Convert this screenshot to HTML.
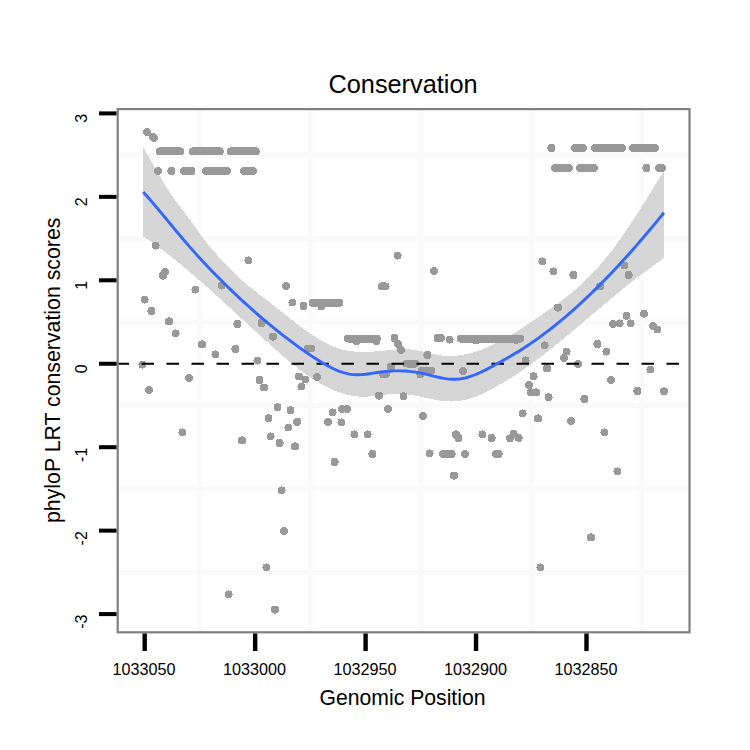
<!DOCTYPE html><html><head><meta charset="utf-8"><title>Conservation</title>
<style>html,body{margin:0;padding:0;background:#fff;}svg{display:block;}text{font-family:"Liberation Sans",sans-serif;fill:#000;}</style></head><body>
<svg width="750" height="750" viewBox="0 0 750 750">
<rect width="750" height="750" fill="#fff"/>
<path d="M199.92 109.10V632.30M310.38 109.10V632.30M420.82 109.10V632.30M531.27 109.10V632.30M641.72 109.10V632.30M117.70 155.12H689.50M117.70 238.57H689.50M117.70 322.02H689.50M117.70 405.48H689.50M117.70 488.93H689.50M117.70 572.38H689.50" stroke="#fafafa" stroke-width="4.8" fill="none"/>
<path d="M143.20 147.01 L145.20 150.53 L147.21 154.07 L149.21 157.63 L151.21 161.18 L153.21 164.73 L155.22 168.26 L157.22 171.76 L159.22 175.21 L161.22 178.62 L163.23 181.97 L165.23 185.25 L167.23 188.44 L169.23 191.55 L171.24 194.55 L173.24 197.44 L175.24 200.23 L177.25 202.94 L179.25 205.58 L181.25 208.19 L183.25 210.78 L185.26 213.37 L187.26 215.99 L189.26 218.65 L191.26 221.38 L193.27 224.20 L195.27 227.11 L197.27 230.05 L199.28 232.98 L201.28 235.82 L203.28 238.53 L205.28 241.10 L207.29 243.58 L209.29 246.01 L211.29 248.40 L213.29 250.76 L215.30 253.09 L217.30 255.37 L219.30 257.62 L221.31 259.83 L223.31 262.00 L225.31 264.13 L227.31 266.22 L229.32 268.27 L231.32 270.27 L233.32 272.23 L235.32 274.15 L237.33 276.02 L239.33 277.85 L241.33 279.64 L243.33 281.39 L245.34 283.11 L247.34 284.80 L249.34 286.46 L251.35 288.09 L253.35 289.71 L255.35 291.30 L257.35 292.88 L259.36 294.45 L261.36 296.00 L263.36 297.55 L265.36 299.09 L267.37 300.63 L269.37 302.17 L271.37 303.72 L273.38 305.27 L275.38 306.84 L277.38 308.41 L279.38 309.99 L281.39 311.58 L283.39 313.18 L285.39 314.78 L287.39 316.37 L289.40 317.96 L291.40 319.54 L293.40 321.12 L295.40 322.68 L297.41 324.23 L299.41 325.76 L301.41 327.27 L303.42 328.76 L305.42 330.22 L307.42 331.66 L309.42 333.07 L311.43 334.44 L313.43 335.78 L315.43 337.07 L317.43 338.33 L319.44 339.54 L321.44 340.71 L323.44 341.83 L325.44 342.90 L327.45 343.91 L329.45 344.87 L331.45 345.76 L333.46 346.60 L335.46 347.37 L337.46 348.07 L339.46 348.71 L341.47 349.27 L343.47 349.78 L345.47 350.22 L347.47 350.61 L349.48 350.94 L351.48 351.21 L353.48 351.44 L355.49 351.62 L357.49 351.76 L359.49 351.85 L361.49 351.90 L363.50 351.92 L365.50 351.90 L367.50 351.85 L369.50 351.77 L371.51 351.67 L373.51 351.54 L375.51 351.39 L377.51 351.23 L379.52 351.05 L381.52 350.85 L383.52 350.65 L385.53 350.44 L387.53 350.23 L389.53 350.03 L391.53 349.84 L393.54 349.66 L395.54 349.50 L397.54 349.37 L399.54 349.26 L401.55 349.19 L403.55 349.16 L405.55 349.18 L407.56 349.24 L409.56 349.35 L411.56 349.53 L413.56 349.77 L415.57 350.07 L417.57 350.42 L419.57 350.83 L421.57 351.26 L423.58 351.73 L425.58 352.21 L427.58 352.69 L429.58 353.18 L431.59 353.65 L433.59 354.10 L435.59 354.52 L437.60 354.89 L439.60 355.22 L441.60 355.49 L443.60 355.69 L445.61 355.84 L447.61 355.93 L449.61 355.96 L451.61 355.93 L453.62 355.85 L455.62 355.71 L457.62 355.52 L459.63 355.28 L461.63 354.98 L463.63 354.64 L465.63 354.25 L467.64 353.81 L469.64 353.32 L471.64 352.79 L473.64 352.22 L475.65 351.60 L477.65 350.94 L479.65 350.24 L481.66 349.50 L483.66 348.72 L485.66 347.91 L487.66 347.06 L489.67 346.17 L491.67 345.26 L493.67 344.30 L495.67 343.32 L497.68 342.31 L499.68 341.27 L501.68 340.20 L503.68 339.10 L505.69 337.98 L507.69 336.83 L509.69 335.66 L511.70 334.47 L513.70 333.26 L515.70 332.02 L517.70 330.77 L519.71 329.50 L521.71 328.22 L523.71 326.91 L525.71 325.60 L527.72 324.27 L529.72 322.93 L531.72 321.58 L533.73 320.22 L535.73 318.85 L537.73 317.48 L539.73 316.09 L541.74 314.71 L543.74 313.32 L545.74 311.92 L547.74 310.53 L549.75 309.13 L551.75 307.72 L553.75 306.30 L555.75 304.87 L557.76 303.42 L559.76 301.95 L561.76 300.47 L563.77 298.96 L565.77 297.43 L567.77 295.87 L569.77 294.28 L571.78 292.65 L573.78 290.99 L575.78 289.30 L577.78 287.56 L579.79 285.78 L581.79 283.96 L583.79 282.09 L585.80 280.17 L587.80 278.20 L589.80 276.17 L591.80 274.09 L593.81 271.96 L595.81 269.78 L597.81 267.55 L599.81 265.26 L601.82 262.92 L603.82 260.53 L605.82 258.09 L607.82 255.60 L609.83 253.05 L611.83 250.46 L613.83 247.81 L615.84 245.12 L617.84 242.37 L619.84 239.58 L621.84 236.74 L623.85 233.86 L625.85 230.94 L627.85 227.98 L629.85 224.98 L631.86 221.96 L633.86 218.90 L635.86 215.81 L637.87 212.70 L639.87 209.56 L641.87 206.40 L643.87 203.22 L645.88 200.03 L647.88 196.82 L649.88 193.60 L651.88 190.37 L653.89 187.13 L655.89 183.89 L657.89 180.64 L659.89 177.39 L661.90 174.15 L663.90 170.91 L663.90 258.24 L661.90 259.59 L659.89 260.96 L657.89 262.34 L655.89 263.75 L653.89 265.17 L651.88 266.61 L649.88 268.06 L647.88 269.53 L645.88 271.02 L643.87 272.52 L641.87 274.03 L639.87 275.56 L637.87 277.10 L635.86 278.66 L633.86 280.23 L631.86 281.80 L629.85 283.39 L627.85 284.99 L625.85 286.60 L623.85 288.22 L621.84 289.85 L619.84 291.49 L617.84 293.13 L615.84 294.78 L613.83 296.44 L611.83 298.11 L609.83 299.78 L607.82 301.45 L605.82 303.13 L603.82 304.82 L601.82 306.50 L599.81 308.19 L597.81 309.89 L595.81 311.58 L593.81 313.28 L591.80 314.98 L589.80 316.67 L587.80 318.37 L585.80 320.07 L583.79 321.76 L581.79 323.46 L579.79 325.15 L577.78 326.83 L575.78 328.52 L573.78 330.20 L571.78 331.88 L569.77 333.55 L567.77 335.21 L565.77 336.87 L563.77 338.53 L561.76 340.17 L559.76 341.81 L557.76 343.44 L555.75 345.06 L553.75 346.67 L551.75 348.27 L549.75 349.86 L547.74 351.44 L545.74 353.01 L543.74 354.57 L541.74 356.11 L539.73 357.65 L537.73 359.16 L535.73 360.67 L533.73 362.16 L531.72 363.63 L529.72 365.09 L527.72 366.53 L525.71 367.95 L523.71 369.36 L521.71 370.75 L519.71 372.13 L517.70 373.48 L515.70 374.82 L513.70 376.13 L511.70 377.43 L509.69 378.71 L507.69 379.96 L505.69 381.20 L503.68 382.41 L501.68 383.60 L499.68 384.78 L497.68 385.92 L495.67 387.05 L493.67 388.15 L491.67 389.23 L489.67 390.28 L487.66 391.29 L485.66 392.28 L483.66 393.23 L481.66 394.14 L479.65 395.01 L477.65 395.84 L475.65 396.63 L473.64 397.36 L471.64 398.04 L469.64 398.67 L467.64 399.25 L465.63 399.76 L463.63 400.22 L461.63 400.61 L459.63 400.93 L457.62 401.19 L455.62 401.37 L453.62 401.48 L451.61 401.52 L449.61 401.49 L447.61 401.40 L445.61 401.26 L443.60 401.06 L441.60 400.82 L439.60 400.53 L437.60 400.21 L435.59 399.86 L433.59 399.48 L431.59 399.08 L429.58 398.66 L427.58 398.23 L425.58 397.80 L423.58 397.36 L421.57 396.92 L419.57 396.50 L417.57 396.08 L415.57 395.69 L413.56 395.32 L411.56 394.97 L409.56 394.66 L407.56 394.39 L405.55 394.16 L403.55 393.98 L401.55 393.85 L399.54 393.78 L397.54 393.77 L395.54 393.82 L393.54 393.91 L391.53 394.04 L389.53 394.21 L387.53 394.40 L385.53 394.62 L383.52 394.86 L381.52 395.10 L379.52 395.35 L377.51 395.59 L375.51 395.82 L373.51 396.04 L371.51 396.23 L369.50 396.40 L367.50 396.53 L365.50 396.62 L363.50 396.66 L361.49 396.65 L359.49 396.58 L357.49 396.44 L355.49 396.23 L353.48 395.97 L351.48 395.64 L349.48 395.26 L347.47 394.81 L345.47 394.31 L343.47 393.74 L341.47 393.13 L339.46 392.46 L337.46 391.73 L335.46 390.96 L333.46 390.13 L331.45 389.25 L329.45 388.33 L327.45 387.36 L325.44 386.34 L323.44 385.28 L321.44 384.17 L319.44 383.02 L317.43 381.83 L315.43 380.60 L313.43 379.34 L311.43 378.03 L309.42 376.69 L307.42 375.31 L305.42 373.90 L303.42 372.46 L301.41 370.98 L299.41 369.48 L297.41 367.95 L295.40 366.38 L293.40 364.80 L291.40 363.19 L289.40 361.55 L287.39 359.89 L285.39 358.21 L283.39 356.51 L281.39 354.80 L279.38 353.06 L277.38 351.31 L275.38 349.54 L273.38 347.76 L271.37 345.97 L269.37 344.17 L267.37 342.35 L265.36 340.53 L263.36 338.70 L261.36 336.87 L259.36 335.03 L257.35 333.18 L255.35 331.34 L253.35 329.49 L251.35 327.64 L249.34 325.79 L247.34 323.93 L245.34 322.08 L243.33 320.23 L241.33 318.37 L239.33 316.52 L237.33 314.67 L235.32 312.82 L233.32 310.97 L231.32 309.13 L229.32 307.28 L227.31 305.44 L225.31 303.61 L223.31 301.77 L221.31 299.94 L219.30 298.12 L217.30 296.30 L215.30 294.49 L213.29 292.68 L211.29 290.88 L209.29 289.09 L207.29 287.30 L205.28 285.52 L203.28 283.75 L201.28 281.98 L199.28 280.23 L197.27 278.48 L195.27 276.75 L193.27 275.02 L191.26 273.31 L189.26 271.60 L187.26 269.91 L185.26 268.23 L183.25 266.56 L181.25 264.90 L179.25 263.25 L177.25 261.62 L175.24 260.00 L173.24 258.40 L171.24 256.81 L169.23 255.24 L167.23 253.68 L165.23 252.13 L163.23 250.61 L161.22 249.09 L159.22 247.60 L157.22 246.12 L155.22 244.66 L153.21 243.22 L151.21 241.80 L149.21 240.40 L147.21 239.01 L145.20 237.65 L143.20 236.30 Z" fill="#d6d6d6" shape-rendering="crispEdges"/>
<g fill="#999" shape-rendering="crispEdges">
<circle cx="147.0" cy="132.0" r="4.00"/>
<circle cx="153.0" cy="137.0" r="4.00"/>
<circle cx="154.0" cy="138.2" r="4.00"/>
<circle cx="155.6" cy="245.6" r="4.00"/>
<circle cx="163.0" cy="275.6" r="4.00"/>
<circle cx="165.0" cy="272.2" r="4.00"/>
<circle cx="248.4" cy="260.4" r="4.00"/>
<circle cx="195.4" cy="289.6" r="4.00"/>
<circle cx="221.6" cy="285.6" r="4.00"/>
<circle cx="144.6" cy="299.6" r="4.00"/>
<circle cx="151.4" cy="311.0" r="4.00"/>
<circle cx="169.0" cy="321.4" r="4.00"/>
<circle cx="175.6" cy="333.4" r="4.00"/>
<circle cx="237.4" cy="324.0" r="4.00"/>
<circle cx="261.6" cy="323.0" r="4.00"/>
<circle cx="202.0" cy="344.4" r="4.00"/>
<circle cx="215.4" cy="354.4" r="4.00"/>
<circle cx="235.4" cy="349.0" r="4.00"/>
<circle cx="257.5" cy="360.5" r="4.00"/>
<circle cx="142.4" cy="364.6" r="4.00"/>
<circle cx="189.0" cy="378.0" r="4.00"/>
<circle cx="259.5" cy="380.0" r="4.00"/>
<circle cx="264.0" cy="387.5" r="4.00"/>
<circle cx="149.0" cy="390.0" r="4.00"/>
<circle cx="182.4" cy="432.4" r="4.00"/>
<circle cx="242.0" cy="440.4" r="4.00"/>
<circle cx="228.6" cy="594.4" r="4.00"/>
<circle cx="266.4" cy="567.4" r="4.00"/>
<circle cx="286.2" cy="286.0" r="4.00"/>
<circle cx="292.5" cy="302.5" r="4.00"/>
<circle cx="303.5" cy="306.0" r="4.00"/>
<circle cx="321.5" cy="306.5" r="4.00"/>
<circle cx="397.6" cy="255.6" r="4.00"/>
<circle cx="273.0" cy="336.6" r="4.00"/>
<circle cx="308.0" cy="348.5" r="4.00"/>
<circle cx="311.0" cy="348.5" r="4.00"/>
<circle cx="356.5" cy="341.0" r="4.00"/>
<circle cx="376.5" cy="341.0" r="4.00"/>
<circle cx="394.5" cy="338.0" r="4.00"/>
<circle cx="398.0" cy="344.0" r="4.00"/>
<circle cx="401.0" cy="350.0" r="4.00"/>
<circle cx="299.0" cy="376.5" r="4.00"/>
<circle cx="305.5" cy="379.5" r="4.00"/>
<circle cx="301.5" cy="386.5" r="4.00"/>
<circle cx="317.0" cy="377.0" r="4.00"/>
<circle cx="391.0" cy="366.5" r="4.00"/>
<circle cx="386.0" cy="374.0" r="4.00"/>
<circle cx="420.5" cy="374.5" r="4.00"/>
<circle cx="383.2" cy="374.5" r="4.00"/>
<circle cx="403.5" cy="396.2" r="4.00"/>
<circle cx="388.0" cy="409.0" r="4.00"/>
<circle cx="277.5" cy="407.2" r="4.00"/>
<circle cx="290.5" cy="410.2" r="4.00"/>
<circle cx="268.5" cy="418.2" r="4.00"/>
<circle cx="297.2" cy="421.8" r="4.00"/>
<circle cx="288.5" cy="427.5" r="4.00"/>
<circle cx="270.6" cy="436.4" r="4.00"/>
<circle cx="279.6" cy="443.0" r="4.00"/>
<circle cx="295.0" cy="446.4" r="4.00"/>
<circle cx="281.6" cy="490.4" r="4.00"/>
<circle cx="332.6" cy="412.4" r="4.00"/>
<circle cx="342.0" cy="409.0" r="4.00"/>
<circle cx="347.0" cy="409.0" r="4.00"/>
<circle cx="328.0" cy="422.0" r="4.00"/>
<circle cx="341.4" cy="422.4" r="4.00"/>
<circle cx="354.4" cy="434.4" r="4.00"/>
<circle cx="367.6" cy="434.4" r="4.00"/>
<circle cx="372.4" cy="454.0" r="4.00"/>
<circle cx="334.6" cy="462.0" r="4.00"/>
<circle cx="379.0" cy="395.6" r="4.00"/>
<circle cx="284.0" cy="531.0" r="4.00"/>
<circle cx="275.0" cy="609.6" r="4.00"/>
<circle cx="434.0" cy="271.0" r="4.00"/>
<circle cx="449.6" cy="339.6" r="4.00"/>
<circle cx="476.0" cy="340.4" r="4.00"/>
<circle cx="516.0" cy="340.0" r="4.00"/>
<circle cx="427.4" cy="355.0" r="4.00"/>
<circle cx="463.0" cy="371.0" r="4.00"/>
<circle cx="525.6" cy="360.4" r="4.00"/>
<circle cx="423.0" cy="416.0" r="4.00"/>
<circle cx="522.6" cy="413.4" r="4.00"/>
<circle cx="529.0" cy="385.0" r="4.00"/>
<circle cx="531.0" cy="392.4" r="4.00"/>
<circle cx="536.0" cy="392.4" r="4.00"/>
<circle cx="456.0" cy="434.4" r="4.00"/>
<circle cx="458.4" cy="438.0" r="4.00"/>
<circle cx="482.4" cy="434.4" r="4.00"/>
<circle cx="491.6" cy="438.0" r="4.00"/>
<circle cx="513.6" cy="433.7" r="4.00"/>
<circle cx="510.0" cy="438.3" r="4.00"/>
<circle cx="518.7" cy="438.0" r="4.00"/>
<circle cx="429.6" cy="453.4" r="4.00"/>
<circle cx="465.0" cy="454.0" r="4.00"/>
<circle cx="454.0" cy="475.6" r="4.00"/>
<circle cx="542.4" cy="261.4" r="4.00"/>
<circle cx="553.4" cy="271.4" r="4.00"/>
<circle cx="573.4" cy="275.0" r="4.00"/>
<circle cx="624.5" cy="265.5" r="4.00"/>
<circle cx="628.6" cy="275.0" r="4.00"/>
<circle cx="600.0" cy="286.4" r="4.00"/>
<circle cx="558.0" cy="307.6" r="4.00"/>
<circle cx="644.0" cy="313.7" r="4.00"/>
<circle cx="626.5" cy="315.8" r="4.00"/>
<circle cx="613.0" cy="324.0" r="4.00"/>
<circle cx="619.6" cy="323.4" r="4.00"/>
<circle cx="630.6" cy="323.4" r="4.00"/>
<circle cx="653.0" cy="326.0" r="4.00"/>
<circle cx="657.5" cy="329.5" r="4.00"/>
<circle cx="544.6" cy="345.4" r="4.00"/>
<circle cx="597.4" cy="344.0" r="4.00"/>
<circle cx="606.4" cy="351.6" r="4.00"/>
<circle cx="566.6" cy="351.6" r="4.00"/>
<circle cx="564.0" cy="358.0" r="4.00"/>
<circle cx="578.0" cy="364.0" r="4.00"/>
<circle cx="547.0" cy="368.4" r="4.00"/>
<circle cx="533.6" cy="376.2" r="4.00"/>
<circle cx="650.5" cy="369.5" r="4.00"/>
<circle cx="611.0" cy="380.0" r="4.00"/>
<circle cx="548.6" cy="397.2" r="4.00"/>
<circle cx="584.4" cy="399.0" r="4.00"/>
<circle cx="637.4" cy="391.0" r="4.00"/>
<circle cx="664.0" cy="391.3" r="4.00"/>
<circle cx="538.0" cy="418.4" r="4.00"/>
<circle cx="571.0" cy="421.0" r="4.00"/>
<circle cx="604.4" cy="432.4" r="4.00"/>
<circle cx="617.4" cy="471.4" r="4.00"/>
<circle cx="591.0" cy="537.4" r="4.00"/>
<circle cx="540.4" cy="567.4" r="4.00"/>
<circle cx="551.4" cy="148.0" r="4.00"/>
<circle cx="646.4" cy="168.0" r="4.00"/>
<circle cx="158.0" cy="171.0" r="4.00"/>
<circle cx="171.4" cy="171.0" r="4.00"/>
</g>
<path d="M160.0 151.4H180.2M193.0 151.4H219.8M231.0 151.4H255.8M184.0 171.0H191.5M206.0 171.0H226.8M244.0 171.0H253.0M312.5 302.8H339.5M382.0 286.4H385.6M348.0 338.5H376.8M406.5 363.5H415.5M422.0 370.5H431.5M437.6 338.0H441.0M461.0 338.6H520.0M575.0 148.0H582.8M595.2 148.0H621.8M633.0 148.0H654.8M555.2 168.0H569.0M580.0 168.0H593.8M659.0 168.0H661.8M443.0 454.0H451.7M496.0 454.0H498.7" stroke="#999" stroke-width="8.00" stroke-linecap="round" fill="none" shape-rendering="crispEdges"/>
<path d="M116.5 363.8H689.5" stroke="#000" stroke-width="2" stroke-dasharray="12.5 12.5" fill="none"/>
<path d="M143.20 191.95 L145.20 194.20 L147.21 196.47 L149.21 198.77 L151.21 201.09 L153.21 203.43 L155.22 205.79 L157.22 208.16 L159.22 210.54 L161.22 212.94 L163.23 215.35 L165.23 217.76 L167.23 220.17 L169.23 222.59 L171.24 225.00 L173.24 227.42 L175.24 229.83 L177.25 232.23 L179.25 234.62 L181.25 237.00 L183.25 239.36 L185.26 241.71 L187.26 244.04 L189.26 246.35 L191.26 248.64 L193.27 250.90 L195.27 253.15 L197.27 255.37 L199.28 257.57 L201.28 259.76 L203.28 261.92 L205.28 264.07 L207.29 266.19 L209.29 268.30 L211.29 270.39 L213.29 272.46 L215.30 274.51 L217.30 276.55 L219.30 278.56 L221.31 280.56 L223.31 282.55 L225.31 284.52 L227.31 286.47 L229.32 288.41 L231.32 290.33 L233.32 292.24 L235.32 294.14 L237.33 296.01 L239.33 297.88 L241.33 299.73 L243.33 301.57 L245.34 303.40 L247.34 305.21 L249.34 307.02 L251.35 308.80 L253.35 310.58 L255.35 312.34 L257.35 314.10 L259.36 315.83 L261.36 317.56 L263.36 319.27 L265.36 320.96 L267.37 322.65 L269.37 324.32 L271.37 325.97 L273.38 327.61 L275.38 329.24 L277.38 330.85 L279.38 332.45 L281.39 334.03 L283.39 335.59 L285.39 337.15 L287.39 338.68 L289.40 340.20 L291.40 341.71 L293.40 343.20 L295.40 344.67 L297.41 346.13 L299.41 347.57 L301.41 348.99 L303.42 350.40 L305.42 351.79 L307.42 353.16 L309.42 354.52 L311.43 355.86 L313.43 357.18 L315.43 358.48 L317.43 359.76 L319.44 361.02 L321.44 362.24 L323.44 363.43 L325.44 364.59 L327.45 365.70 L329.45 366.76 L331.45 367.78 L333.46 368.74 L335.46 369.65 L337.46 370.49 L339.46 371.27 L341.47 371.98 L343.47 372.62 L345.47 373.18 L347.47 373.66 L349.48 374.06 L351.48 374.37 L353.48 374.58 L355.49 374.71 L357.49 374.75 L359.49 374.71 L361.49 374.61 L363.50 374.45 L365.50 374.25 L367.50 374.00 L369.50 373.72 L371.51 373.42 L373.51 373.11 L375.51 372.80 L377.51 372.49 L379.52 372.19 L381.52 371.92 L383.52 371.67 L385.53 371.46 L387.53 371.27 L389.53 371.12 L391.53 371.00 L393.54 370.91 L395.54 370.85 L397.54 370.83 L399.54 370.83 L401.55 370.88 L403.55 370.95 L405.55 371.06 L407.56 371.20 L409.56 371.38 L411.56 371.60 L413.56 371.85 L415.57 372.14 L417.57 372.46 L419.57 372.82 L421.57 373.22 L423.58 373.66 L425.58 374.12 L427.58 374.61 L429.58 375.10 L431.59 375.61 L433.59 376.11 L435.59 376.60 L437.60 377.07 L439.60 377.52 L441.60 377.93 L443.60 378.31 L445.61 378.63 L447.61 378.90 L449.61 379.11 L451.61 379.25 L453.62 379.30 L455.62 379.28 L457.62 379.15 L459.63 378.94 L461.63 378.64 L463.63 378.26 L465.63 377.80 L467.64 377.26 L469.64 376.66 L471.64 375.99 L473.64 375.26 L475.65 374.48 L477.65 373.64 L479.65 372.76 L481.66 371.84 L483.66 370.87 L485.66 369.88 L487.66 368.85 L489.67 367.81 L491.67 366.74 L493.67 365.65 L495.67 364.56 L497.68 363.46 L499.68 362.35 L501.68 361.24 L503.68 360.11 L505.69 358.98 L507.69 357.83 L509.69 356.67 L511.70 355.50 L513.70 354.32 L515.70 353.11 L517.70 351.90 L519.71 350.66 L521.71 349.40 L523.71 348.12 L525.71 346.82 L527.72 345.50 L529.72 344.16 L531.72 342.80 L533.73 341.42 L535.73 340.01 L537.73 338.59 L539.73 337.14 L541.74 335.68 L543.74 334.19 L545.74 332.69 L547.74 331.16 L549.75 329.62 L551.75 328.05 L553.75 326.47 L555.75 324.86 L557.76 323.24 L559.76 321.60 L561.76 319.93 L563.77 318.25 L565.77 316.55 L567.77 314.83 L569.77 313.10 L571.78 311.34 L573.78 309.57 L575.78 307.78 L577.78 305.96 L579.79 304.14 L581.79 302.29 L583.79 300.43 L585.80 298.54 L587.80 296.65 L589.80 294.73 L591.80 292.80 L593.81 290.85 L595.81 288.88 L597.81 286.89 L599.81 284.89 L601.82 282.87 L603.82 280.84 L605.82 278.79 L607.82 276.72 L609.83 274.64 L611.83 272.54 L613.83 270.42 L615.84 268.29 L617.84 266.15 L619.84 263.99 L621.84 261.81 L623.85 259.62 L625.85 257.41 L627.85 255.19 L629.85 252.95 L631.86 250.70 L633.86 248.43 L635.86 246.15 L637.87 243.85 L639.87 241.54 L641.87 239.22 L643.87 236.88 L645.88 234.53 L647.88 232.16 L649.88 229.78 L651.88 227.39 L653.89 224.99 L655.89 222.57 L657.89 220.13 L659.89 217.69 L661.90 215.23 L663.90 212.76" stroke="#3366ff" stroke-width="2.9" fill="none"/>
<rect x="117.70" y="109.10" width="571.80" height="523.20" fill="none" stroke="#7f7f7f" stroke-width="2.2"/>
<rect x="99" y="612.10" width="17.5" height="4" fill="#000"/>
<text transform="translate(86.8 614.60) rotate(-90)" font-size="16" text-anchor="end">-3</text>
<rect x="99" y="528.65" width="17.5" height="4" fill="#000"/>
<text transform="translate(86.8 531.15) rotate(-90)" font-size="16" text-anchor="end">-2</text>
<rect x="99" y="445.20" width="17.5" height="4" fill="#000"/>
<text transform="translate(86.8 447.70) rotate(-90)" font-size="16" text-anchor="end">-1</text>
<rect x="99" y="361.75" width="17.5" height="4" fill="#000"/>
<text transform="translate(86.8 364.25) rotate(-90)" font-size="16" text-anchor="end">0</text>
<rect x="99" y="278.30" width="17.5" height="4" fill="#000"/>
<text transform="translate(86.8 280.80) rotate(-90)" font-size="16" text-anchor="end">1</text>
<rect x="99" y="194.85" width="17.5" height="4" fill="#000"/>
<text transform="translate(86.8 197.35) rotate(-90)" font-size="16" text-anchor="end">2</text>
<rect x="99" y="111.40" width="17.5" height="4" fill="#000"/>
<text transform="translate(86.8 113.90) rotate(-90)" font-size="16" text-anchor="end">3</text>
<rect x="142.50" y="633.5" width="4.4" height="17.5" fill="#000"/>
<text x="144.10" y="675.2" font-size="16.2" text-anchor="middle">1033050</text>
<rect x="252.95" y="633.5" width="4.4" height="17.5" fill="#000"/>
<text x="254.55" y="675.2" font-size="16.2" text-anchor="middle">1033000</text>
<rect x="363.40" y="633.5" width="4.4" height="17.5" fill="#000"/>
<text x="365.00" y="675.2" font-size="16.2" text-anchor="middle">1032950</text>
<rect x="473.85" y="633.5" width="4.4" height="17.5" fill="#000"/>
<text x="475.45" y="675.2" font-size="16.2" text-anchor="middle">1032900</text>
<rect x="584.30" y="633.5" width="4.4" height="17.5" fill="#000"/>
<text x="585.90" y="675.2" font-size="16.2" text-anchor="middle">1032850</text>
<text x="403" y="92.7" font-size="25.3" text-anchor="middle">Conservation</text>
<text x="402.5" y="704.6" font-size="21.2" text-anchor="middle">Genomic Position</text>
<text transform="translate(60 370.3) rotate(-90)" font-size="21.3" text-anchor="middle">phyloP LRT conservation scores</text>
</svg></body></html>
